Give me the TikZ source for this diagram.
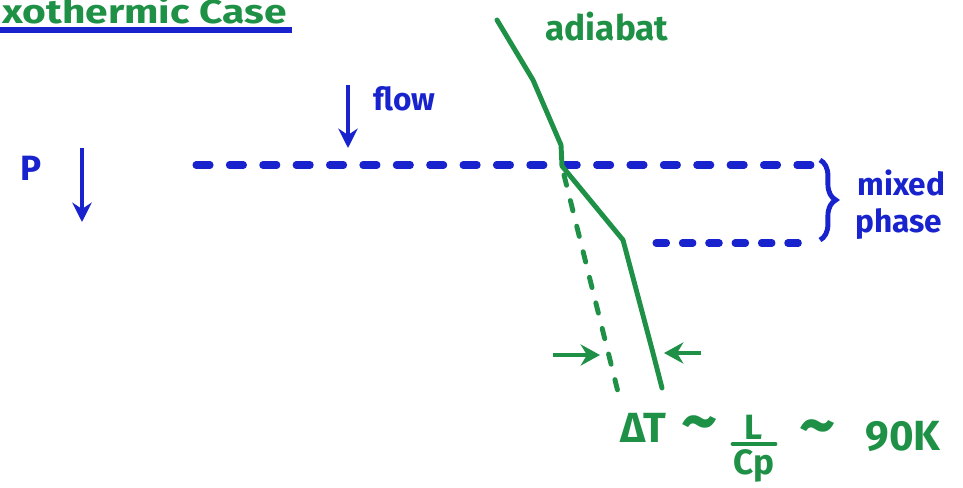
\documentclass[tikz,border=0pt]{standalone}
\usepackage{fontspec}
\setmainfont{Fira Sans}
\newfontfamily\widefont[FakeStretch=1.22]{Fira Sans}
\usepackage{tikz}
\usetikzlibrary{arrows.meta, positioning, calc, decorations.pathreplacing}
\definecolor{penblue}{RGB}{25,35,205}
\definecolor{pengreen}{RGB}{30,145,70}

\begin{document}
\begin{tikzpicture}[x=0.02cm, y=-0.02cm,
    bluetxt/.style={text=penblue, font=\fontsize{18}{20}\selectfont\bfseries, inner sep=0pt},
    greentxt/.style={text=pengreen, font=\fontsize{20}{22}\selectfont\bfseries, inner sep=0pt},
    bigtxt/.style={greentxt, font=\fontsize{24}{26}\selectfont\bfseries},
    tilde/.style={greentxt, font=\fontsize{40}{42}\selectfont\bfseries},
    blueline/.style={draw=penblue, line width=4pt, dash pattern=on 8pt off 11pt, line cap=round},
    adiabat/.style={draw=pengreen, line width=2.8pt, line cap=round, line join=round},
    bluearrow/.style={-{Stealth[length=11pt,width=11pt]}, draw=penblue, line width=2.8pt},
    greenarrow/.style={-{Stealth[length=11pt,width=12pt]}, draw=pengreen, line width=2.8pt}
]
\clip (0,0) rectangle (963,487);
\useasboundingbox (0,0) rectangle (963,487);

% title
\node[greentxt, anchor=base west, font=\widefont\fontsize{19}{21}\selectfont\bfseries] (title) at (2,23) {xothermic Case};
\draw[draw=penblue, line width=3.4pt] (0,30) -- ($(title.base east)+(5,7)$);

% pressure and flow
\node[bluetxt, font=\fontsize{20}{22}\selectfont\bfseries] (P) at (31,168) {P};
\coordinate (Ptop) at (82,148);
\coordinate (Pbot) at (82,222);
\draw[bluearrow] (Ptop) -- (Pbot);
\coordinate (flowtop) at (348,85);
\coordinate (flowbot) at (348,148);
\draw[bluearrow] (flowtop) -- (flowbot);
\node[bluetxt, anchor=west] (flow) at (373,99) {flow};

% phase boundaries
\coordinate (b1) at (196,165);
\coordinate (b2) at (812,165);
\coordinate (c1) at (656,243);
\coordinate (c2) at (800,243);
\draw[blueline] (b1) -- (b2);
\draw[blueline, dash pattern=on 6pt off 9pt] (c1) -- (c2);
\coordinate (br1) at (820,160);
\coordinate (br2) at (820,240);
\draw[draw=penblue, line width=2.8pt, decorate, decoration={brace, amplitude=9pt}] (br1) -- (br2);
\node[bluetxt, anchor=west] (mixed) at (857,183) {mixed};
\node[bluetxt, anchor=west] (phase) at (855,224) {phase};

% adiabat
\node[greentxt] (adlabel) at (607,27) {adiabat};
\coordinate (a0) at (497,20);
\coordinate (a1) at (533,80);
\coordinate (a2) at (561,145);
\coordinate (a3) at (562,166);
\coordinate (a4) at (623,240);
\coordinate (a5) at (653,353);
\coordinate (a6) at (662,388);
\draw[adiabat] (a0) -- (a1) -- (a2) -- (a3) -- (a4) -- (a5) -- (a6);
\coordinate (d1) at (564,175);
\coordinate (d2) at (620,400);
\draw[adiabat, dash pattern=on 6pt off 9pt] (d1) -- (d2);

% temperature shift
\coordinate (l1) at (553,355);
\coordinate (l2) at (600,355);
\coordinate (r1) at (701,353);
\coordinate (r2) at (664,353);
\draw[greenarrow] (l1) -- (l2);
\draw[greenarrow] (r1) -- (r2);
\node[bigtxt] (dT) at (643,428) {ΔT};
\node[tilde] (sim1) at (700,430) {\textasciitilde};
\node[greentxt] (Lnum) at (754,427) {L};
\node[greentxt] (Cpden) at (754,466) {Cp};
\coordinate (fr1) at (733,444);
\coordinate (fr2) at (775,444);
\draw[draw=pengreen, line width=2.8pt, line cap=round] (fr1) -- (fr2);
\node[tilde] (sim2) at (818,434) {\textasciitilde};
\node[bigtxt] (K) at (903,436) {90K};
\end{tikzpicture}
\end{document}
